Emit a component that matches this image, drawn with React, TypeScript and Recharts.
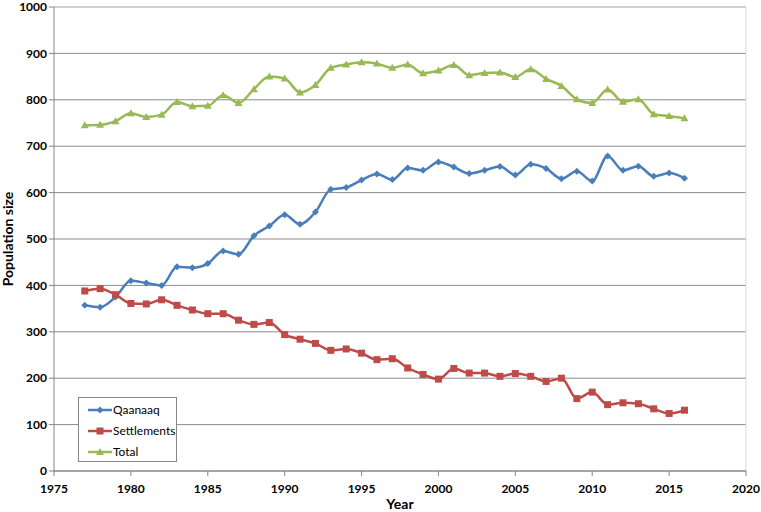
import React from 'react'
import { LineChart, Line, XAxis, YAxis, CartesianGrid, ReferenceLine } from 'recharts';

const years = [
  1977, 1978, 1979, 1980, 1981, 1982, 1983, 1984, 1985, 1986,
  1987, 1988, 1989, 1990, 1991, 1992, 1993, 1994, 1995, 1996,
  1997, 1998, 1999, 2000, 2001, 2002, 2003, 2004, 2005, 2006,
  2007, 2008, 2009, 2010, 2011, 2012, 2013, 2014, 2015, 2016,
];

const qaanaaq = [
  357, 353, 375, 410, 405, 400, 440, 438, 447, 474,
  467, 507, 528, 552, 532, 558, 607, 611, 627, 640,
  628, 653, 648, 666, 655, 641, 648, 656, 638, 661,
  652, 630, 646, 625, 679, 648, 657, 635, 642, 631,
];

const settlements = [
  388, 393, 380, 361, 360, 369, 357, 347, 339, 339,
  325, 316, 320, 294, 284, 275, 260, 263, 254, 240,
  242, 222, 208, 198, 221, 211, 211, 204, 210, 204,
  193, 200, 156, 170, 143, 147, 145, 134, 124, 131,
];

const total = [
  745, 746, 754, 771, 763, 768, 795, 786, 787, 810,
  793, 823, 850, 846, 816, 832, 869, 876, 881, 878,
  869, 876, 857, 863, 875, 853, 858, 859, 849, 866,
  845, 830, 801, 793, 822, 796, 801, 769, 765, 760,
];

const xTicks = [1975, 1980, 1985, 1990, 1995, 2000, 2005, 2010, 2015, 2020];
const yTicks = [0, 100, 200, 300, 400, 500, 600, 700, 800, 900, 1000];

const data = years.map((y, i) => ({
  year: y,
  qaanaaq: qaanaaq[i],
  settlements: settlements[i],
  total: total[i],
}));

const BLUE = '#4A7EBB';
const RED = '#BE4B48';
const GREEN = '#98B954';
const FONT = 'Lato, "Open Sans", sans-serif';

const Marker = ({ kind, cx, cy, color }) => {
  if (cx == null || cy == null) return null;
  if (kind === 'diamond') {
    const r = 3.5;
    return <polygon points={`${cx},${cy - r} ${cx + r},${cy} ${cx},${cy + r} ${cx - r},${cy}`} fill={color} />;
  }
  if (kind === 'square') {
    const r = 3.5;
    return <rect x={cx - r} y={cy - r} width={r * 2} height={r * 2} fill={color} />;
  }
  const r = 4;
  return <polygon points={`${cx},${cy - r} ${cx + r},${cy + r * 0.75} ${cx - r},${cy + r * 0.75}`} fill={color} />;
};

const dotFor = (kind, color) => (props) => (
  <Marker key={`${kind}-${props.index}`} kind={kind} cx={props.cx} cy={props.cy} color={color} />
);

const legendItems = [
  { label: 'Qaanaaq', color: BLUE, kind: 'diamond' },
  { label: 'Settlements', color: RED, kind: 'square' },
  { label: 'Total', color: GREEN, kind: 'triangle' },
];

const LegendBox = () => (
  <div style={{
    position: 'absolute', left: 78, top: 397,
    border: '1px solid #868686', background: '#fff', width: 99, height: 65,
    boxSizing: 'border-box', padding: '1px 0 0 9px', fontFamily: FONT, fontSize: 12,
  }}>
    {legendItems.map((it) => (
      <div key={it.label} style={{ display: 'flex', alignItems: 'center', height: 21 }}>
        <svg width={24} height={10}>
          <line x1={0} y1={5} x2={24} y2={5} stroke={it.color} strokeWidth={2.5} />
          <Marker kind={it.kind} cx={12} cy={5} color={it.color} />
        </svg>
        <span style={{ marginLeft: 1, color: '#000' }}>{it.label}</span>
      </div>
    ))}
  </div>
);

const App = () => {
  const tickStyle = { fontFamily: FONT, fontSize: 12, fontWeight: 'bold', fill: '#000' };
  return (
    <div style={{ position: 'absolute', left: 0, top: 0, width: 761, height: 512, background: '#fff' }}>
      <LineChart
        width={761}
        height={512}
        data={data}
        margin={{ top: 7, right: 15, left: 0, bottom: 0 }}
      >
        <CartesianGrid vertical={false} stroke="#8c8c8c" strokeWidth={1} />
        <XAxis
          dataKey="year"
          type="number"
          domain={[1975, 2020]}
          ticks={xTicks}
          interval={0}
          height={41}
          stroke="#868686"
          tickSize={5}
          tickMargin={8}
          tick={tickStyle}
          label={{ value: 'Year', position: 'insideBottom', offset: 3, style: { ...tickStyle, fontSize: 14 } }}
        />
        <YAxis
          domain={[0, 1000]}
          ticks={yTicks}
          interval={0}
          width={54}
          stroke="#868686"
          tickSize={5}
          tick={tickStyle}
          label={{ value: 'Population size', angle: -90, position: 'insideLeft', offset: 8, style: { ...tickStyle, fontSize: 14, textAnchor: 'middle' } }}
        />
        <ReferenceLine y={1000} stroke="#d9d9d9" />
        <ReferenceLine x={2020} stroke="#d9d9d9" />
        <Line type="monotone" dataKey="qaanaaq" name="Qaanaaq" stroke={BLUE} strokeWidth={2.5}
          dot={dotFor('diamond', BLUE)} activeDot={false} isAnimationActive={false} />
        <Line type="monotone" dataKey="settlements" name="Settlements" stroke={RED} strokeWidth={2.5}
          dot={dotFor('square', RED)} activeDot={false} isAnimationActive={false} />
        <Line type="monotone" dataKey="total" name="Total" stroke={GREEN} strokeWidth={2.5}
          dot={dotFor('triangle', GREEN)} activeDot={false} isAnimationActive={false} />
      </LineChart>
      <LegendBox />
    </div>
  );
};

export default App;
